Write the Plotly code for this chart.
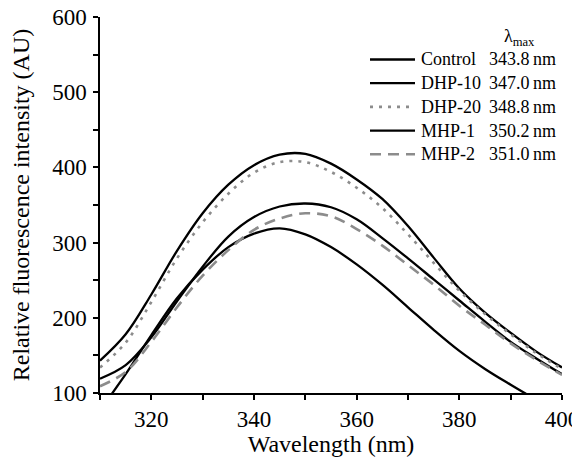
import plotly.graph_objects as go

# ---- data ----
wavelength = [310, 315, 320, 325, 330, 335, 340, 345, 350, 355, 360,
              365, 370, 375, 380, 385, 390, 395, 400]

control = [77, 125, 177, 226, 264, 294, 312, 319, 311, 294, 271,
           244, 214, 184, 156, 132, 111, 91, 72]
dhp10 = [143, 178, 231, 289, 339, 377, 403, 417, 418, 405, 384,
         358, 322, 280, 239, 207, 180, 155, 134]
dhp20 = [134, 167, 221, 279, 327, 365, 393, 407, 407, 394, 373,
         346, 311, 273, 236, 205, 178, 153, 132]
mhp1 = [119, 137, 174, 222, 268, 308, 334, 348, 352, 347, 331,
        306, 279, 251, 223, 195, 168, 146, 125]
mhp2 = [109, 128, 168, 214, 256, 290, 317, 332, 339, 335, 318,
        296, 270, 244, 216, 191, 166, 144, 124]

names = ["Control", "DHP-10", "DHP-20", "MHP-1", "MHP-2"]
lambda_max = ["343.8", "347.0", "348.8", "350.2", "351.0"]
series = [control, dhp10, dhp20, mhp1, mhp2]

x_ticks = [320, 340, 360, 380, 400]
y_ticks = [100, 200, 300, 400, 500, 600]

# ---- styles ----
GRAY = "#8c8c8c"
styles = [
    dict(color="black", width=2.3, dash="solid"),
    dict(color="black", width=2.3, dash="solid"),
    dict(color=GRAY, width=2.6, dash="3px,6px"),
    dict(color="black", width=2.3, dash="solid"),
    dict(color=GRAY, width=2.6, dash="11px,7px"),
]

FONT = "Liberation Serif"

fig = go.Figure()
for name, ys, st in zip(names, series, styles):
    fig.add_trace(go.Scatter(
        x=wavelength, y=ys, mode="lines", name=name, showlegend=False,
        line=dict(color=st["color"], width=st["width"], dash=st["dash"],
                  shape="spline", smoothing=1.0),
    ))

# page has an 8px body margin; the figure is sized so it fits the window
W, H = 572, 449
ml, mt = 92, 9
pw, ph = 462, 376
mr, mb = W - ml - pw, H - mt - ph
OFF = 8  # body margin offset (window px -> figure px)


def wx(px):  # window x pixel -> paper
    return (px - OFF - ml) / pw


def wy(py):  # window y pixel -> paper
    return 1 - (py - OFF - mt) / ph


# ---- legend (drawn as a key: sample line, name, lambda max) ----
annotations = []
shapes = []
row0, step = 59.5, 23.7
for i, (name, val, st) in enumerate(zip(names, lambda_max, styles)):
    yy = wy(row0 + i * step)
    shapes.append(dict(
        type="line", xref="paper", yref="paper",
        x0=wx(370), x1=wx(415), y0=yy, y1=yy,
        line=dict(color=st["color"], width=st["width"], dash=st["dash"]),
    ))
    annotations.append(dict(
        x=wx(419), y=yy, xref="paper", yref="paper",
        xanchor="left", yanchor="middle", text=name, showarrow=False,
        font=dict(family=FONT, size=18, color="black"),
    ))
    annotations.append(dict(
        x=wx(487), y=yy, xref="paper", yref="paper",
        xanchor="left", yanchor="middle",
        text=val + "\u2009nm", showarrow=False,
        font=dict(family=FONT, size=18, color="black"),
    ))
annotations.append(dict(
    x=wx(519), y=wy(37), xref="paper", yref="paper",
    xanchor="center", yanchor="middle",
    text="\u03bb<sub>max</sub>", showarrow=False,
    font=dict(family=FONT, size=18, color="black"),
))

fig.update_layout(
    width=W, height=H,
    margin=dict(l=ml, r=mr, t=mt, b=mb, autoexpand=False),
    paper_bgcolor="white", plot_bgcolor="white",
    font=dict(family=FONT, color="black"),
    showlegend=False,
    annotations=annotations,
    shapes=shapes,
    xaxis=dict(
        range=[310, 400], tickvals=x_ticks,
        showgrid=False, zeroline=False,
        showline=True, linecolor="black", linewidth=1.5,
        ticks="outside", ticklen=5, tickwidth=1.5, tickcolor="black",
        minor=dict(dtick=10, ticks="outside", ticklen=5, tickwidth=1.5,
                   tickcolor="black", showgrid=False),
        tickfont=dict(family=FONT, size=23, color="black"),
        ticklabeloverflow="allow",
        title=dict(text="Wavelength (nm)",
                   font=dict(family=FONT, size=24, color="black"),
                   standoff=6),
        automargin=False,
    ),
    yaxis=dict(
        range=[100, 600], tickvals=y_ticks,
        showgrid=False, zeroline=False,
        showline=True, linecolor="black", linewidth=1.5,
        ticks="outside", ticklen=5, tickwidth=1.5, tickcolor="black",
        minor=dict(dtick=50, ticks="outside", ticklen=5, tickwidth=1.5,
                   tickcolor="black", showgrid=False),
        tickfont=dict(family=FONT, size=23, color="black"),
        ticklabelstandoff=2,
        ticklabeloverflow="allow",
        title=dict(text="Relative fluorescence intensity (AU)",
                   font=dict(family=FONT, size=24, color="black"),
                   standoff=20),
        automargin=False,
    ),
)

fig.write_html("out.html")
